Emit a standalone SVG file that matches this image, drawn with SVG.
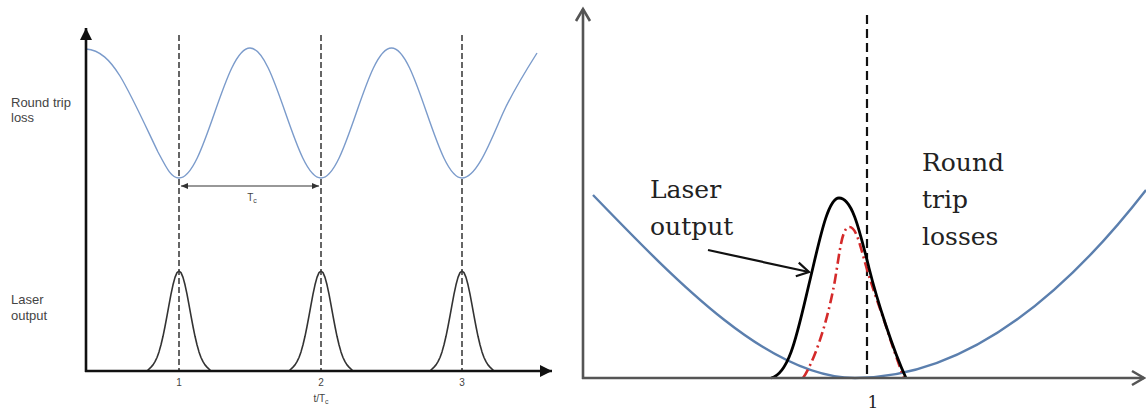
<svg xmlns="http://www.w3.org/2000/svg" xmlns:xlink="http://www.w3.org/1999/xlink" width="1146" height="410" viewBox="0 0 1146 410">
  <style>
    .axisL { stroke: #111; stroke-width: 2.6; fill: none; }
    .axisR { stroke: #555; stroke-width: 2.6; fill: none; }
    .dashL { stroke: #333; stroke-width: 1.5; stroke-dasharray: 6 3; fill: none; }
    .dashR { stroke: #111; stroke-width: 2.2; stroke-dasharray: 9 5; fill: none; }
    .blueL { stroke: #7b9bcb; stroke-width: 1.4; fill: none; }
    .blueR { stroke: #5b7fae; stroke-width: 2.4; fill: none; }
    .pulseL { stroke: #333; stroke-width: 1.6; fill: none; stroke-linejoin: round; }
    .pulseR { stroke: #000; stroke-width: 2.8; fill: none; }
    .pulseRed { stroke: #d42a2a; stroke-width: 2.6; fill: none; stroke-dasharray: 10 4 2 4; }
    .small { font-family: "Liberation Sans", Arial, sans-serif; font-size: 13px; fill: #444; }
    .tiny { font-family: "Liberation Sans", Arial, sans-serif; font-size: 10px; fill: #444; }
    .big { font-family: "DejaVu Serif", "Liberation Serif", serif; font-size: 25px; fill: #222; }
  </style>
  <defs>
    <marker id="arrFill" viewBox="0 0 12 12" refX="12" refY="6" markerWidth="12" markerHeight="12" markerUnits="userSpaceOnUse" orient="auto-start-reverse">
      <path d="M0,0 L12,6 L0,12 z" fill="#111"/>
    </marker>
    <marker id="arrSmall" viewBox="0 0 7 6" refX="7" refY="3" markerWidth="7" markerHeight="6" markerUnits="userSpaceOnUse" orient="auto-start-reverse">
      <path d="M0,0 L7,3 L0,6 z" fill="#333"/>
    </marker>
    <marker id="arrOpenGray" viewBox="0 0 18 18" refX="15" refY="9" markerWidth="18" markerHeight="18" markerUnits="userSpaceOnUse" orient="auto">
      <path d="M3,2 L15,9 L3,16" fill="none" stroke="#555" stroke-width="2.6"/>
    </marker>
    <marker id="arrOpenBlack" viewBox="0 0 18 18" refX="15" refY="9" markerWidth="18" markerHeight="18" markerUnits="userSpaceOnUse" orient="auto">
      <path d="M3,2 L15,9 L3,16" fill="none" stroke="#111" stroke-width="2.2"/>
    </marker>
    <path id="pulse" class="pulseL" d="M-32,0 L-28,-3.9 L-26,-6.1 L-24,-9.3 L-22,-13.5 L-20,-19.1 L-18,-26.2 L-16,-34.7 L-14,-44.5 L-12,-55.2 L-10,-66.2 L-8,-76.8 L-6,-86.2 L-4,-93.6 L-2,-98.4 L0,-100 L2,-98.4 L4,-93.6 L6,-86.2 L8,-76.8 L10,-66.2 L12,-55.2 L14,-44.5 L16,-34.7 L18,-26.2 L20,-19.1 L22,-13.5 L24,-9.3 L26,-6.1 L28,-3.9 L32,0"/>
  </defs>

  <rect width="1146" height="410" fill="#fff"/>

  <!-- LEFT PLOT -->
  <g id="left-plot">
    <g id="left-dashes">
      <line class="dashL" x1="179" y1="35" x2="179" y2="371"/>
      <line class="dashL" x1="321" y1="35" x2="321" y2="371"/>
      <line class="dashL" x1="462" y1="35" x2="462" y2="371"/>
    </g>
    <path id="left-loss" class="blueL" d="M86,49 C100,50 110,60 120,76 C132,96 145,125 158,152 C166,167 171,178 179,178 C191.85,178 202.93,146.3 214.5,113 C226.08,79.7 237.15,48 250,48 C262.85,48 273.93,79.7 285.5,113 C297.08,146.3 308.15,178 321,178 C333.76,178 344.76,146.3 356.25,113 C367.75,79.7 378.74,48 391.5,48 C404.26,48 415.26,79.7 426.75,113 C438.25,146.3 449.26,178 462,178 C477,178 491,140 503,113 C513,91 525,72 537,53"/>
    <g id="left-pulses">
      <use xlink:href="#pulse" href="#pulse" x="179" y="371"/>
      <use xlink:href="#pulse" href="#pulse" x="321" y="371"/>
      <use xlink:href="#pulse" href="#pulse" x="462" y="371"/>
    </g>
    <g id="left-axes">
      <line class="axisL" x1="86" y1="372" x2="86" y2="28" marker-end="url(#arrFill)"/>
      <line class="axisL" x1="85" y1="371" x2="552" y2="371" marker-end="url(#arrFill)"/>
    </g>
    <g id="left-labels">
      <text class="small" x="11" y="107">Round trip</text>
      <text class="small" x="11" y="122">loss</text>
      <text class="small" x="11" y="304">Laser</text>
      <text class="small" x="11" y="320">output</text>
      <text class="tiny" x="179" y="386" text-anchor="middle">1</text>
      <text class="tiny" x="321" y="386" text-anchor="middle">2</text>
      <text class="tiny" x="462" y="386" text-anchor="middle">3</text>
      <text class="tiny" x="321" y="402" text-anchor="middle">t/T<tspan font-size="7" dy="2">c</tspan></text>
      <text class="tiny" x="252" y="201" text-anchor="middle">T<tspan font-size="7" dy="2">c</tspan></text>
    </g>
  </g>

  <!-- RIGHT PLOT -->
  <g id="right-plot">
    <line id="right-dash" class="dashR" x1="867" y1="15" x2="867" y2="378"/>
    <path id="right-loss" class="blueR" d="M593,195 C680,285 770,378 855,378 Q1000,378 1146,190"/>
    <path id="right-pulse-red" class="pulseRed" d="M803,378 C812,365 826,330 835,280 C840,250 842,228 849,227 C856,226 860,245 866,266 C873,290 880,308 886,326 C892,345 899,365 904,378"/>
    <path id="right-pulse" class="pulseR" d="M771,378 C790,374 798,330 810,280 C820,238 828,198 839,198 C852,198 859,228 869,268 C877,300 893,350 906,378"/>
    <g id="right-axes">
      <line class="axisR" x1="583" y1="379" x2="583" y2="9" marker-end="url(#arrOpenGray)"/>
      <line class="axisR" x1="582" y1="378" x2="1144" y2="378" marker-end="url(#arrOpenGray)"/>
    </g>
    <g id="right-labels">
      <text class="big" x="650" y="198">Laser</text>
      <text class="big" x="650" y="235">output</text>
      <text class="big" x="922" y="171">Round</text>
      <text class="big" x="922" y="208">trip</text>
      <text class="big" x="922" y="245">losses</text>
      <text x="873" y="408" text-anchor="middle" font-family="DejaVu Serif, Liberation Serif, serif" font-size="17" fill="#222">1</text>
    </g>
  </g>

  <g id="connectors">
    <line x1="708" y1="250" x2="809" y2="272" stroke="#111" stroke-width="2.2" marker-end="url(#arrOpenBlack)"/>
    <line x1="181" y1="186" x2="319" y2="186" stroke="#333" stroke-width="1.2" marker-start="url(#arrSmall)" marker-end="url(#arrSmall)"/>
  </g>
</svg>
